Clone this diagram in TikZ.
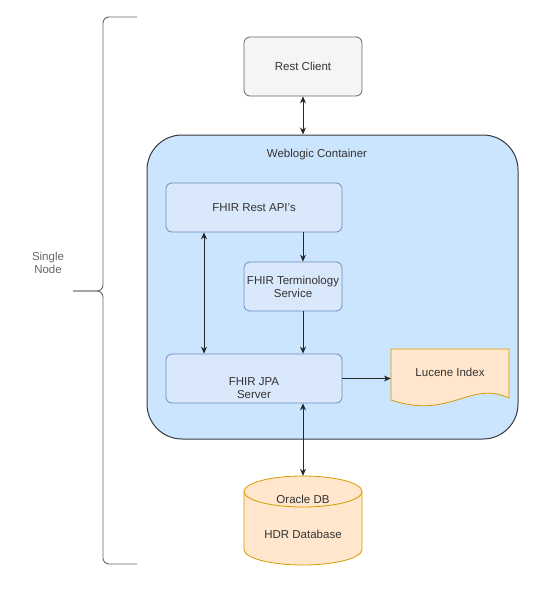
\documentclass[tikz,border=0pt]{standalone}
\usepackage{fontspec}
\setmainfont{Liberation Sans}
\usetikzlibrary{arrows.meta}

\definecolor{txtgray}{HTML}{333333}
\definecolor{clientfill}{HTML}{F5F5F5}
\definecolor{clientline}{HTML}{666666}
\definecolor{contfill}{HTML}{CCE5FF}
\definecolor{contline}{HTML}{36393D}
\definecolor{boxfill}{HTML}{DAE8FC}
\definecolor{boxline}{HTML}{6C8EBF}
\definecolor{orfill}{HTML}{FFE6CC}
\definecolor{orline}{HTML}{D79B00}

\tikzset{
  box/.style={draw=boxline, fill=boxfill, rounded corners=6pt, line width=0.8pt,
    text=txtgray, align=center, inner sep=2pt},
  link/.style={draw=black!85, line width=1pt},
  orshape/.style={draw=orline, fill=orfill, line width=0.8pt}
}

\begin{document}
\begin{tikzpicture}[x=1pt, y=-1pt, >={Stealth[length=7pt,width=6pt]},
  font=\fontsize{11.5}{13}\selectfont]
		\useasboundingbox (0,0) rectangle (559,599);
		
		% brace
		\draw[clientline, line width=0.9pt, rounded corners=6pt] (137,17) -- (103,17) -- (103,291) -- (73,291);
		\draw[clientline, line width=0.9pt, rounded corners=6pt] (73,291) -- (103,291) -- (103,564) -- (137,564);
		\node[text=clientline, align=center] (single) at (48,262.5) {Single\\Node};
		
		% container
		\node[draw=contline, fill=contfill, line width=1pt, rounded corners=35pt,
		  minimum width=371pt, minimum height=304pt] (cont) at (332.5,287) {};
		\node[text=txtgray] (contlabel) at (317,155) {Weblogic Container};
		
		\node[box, draw=clientline, fill=clientfill, minimum width=118pt, minimum height=59pt] (client) at (303,66.5) {Rest Client};
		\node[box, minimum width=176pt, minimum height=49pt] (rest) at (254,207.5) {FHIR Rest API's};
		\node[box, minimum width=98pt, minimum height=49pt] (term) at (293,286.5) {FHIR Terminology\\Service};
		\node[box, minimum width=176pt, minimum height=49pt, text height=40pt] (jpa) at (254,378.5) {FHIR JPA\\Server};
		
		% lucene index
		\draw[orshape] (391,349) -- (509,349) -- (509,398) .. controls (470,380) and (450,420) .. (391,400) -- cycle;
		\node[text=txtgray, minimum width=118pt, minimum height=46pt] (lucene) at (450,372) {Lucene Index};
		
		% database
		\draw[orshape] (244,491.5) -- (244,549.5) arc[start angle=180, end angle=0, x radius=59, y radius=15.5] -- (362,491.5);
		\draw[orshape] (303,491.5) ellipse[x radius=59, y radius=15.5];
		\node[text=txtgray, align=center, minimum width=118pt, minimum height=81pt] (db) at (303,516.5) {Oracle DB\\[22pt]HDR Database};
		
		% connectors
		\draw[link, <->] (client.south) -- (client.south |- cont.north);
		\draw[link, ->] (rest.south -| client.south) -- (term.north -| client.south);
		\draw[link, ->] (term.south -| client.south) -- (jpa.north -| client.south);
		\draw[link, <->] ([xshift=-50pt]rest.south) -- ([xshift=-50pt]jpa.north);
		\draw[link, ->] (jpa.east) -- (jpa.east -| lucene.west);
		\draw[link, <->] (jpa.south -| db.north) -- (db.north);
	\end{tikzpicture}
\end{document}
